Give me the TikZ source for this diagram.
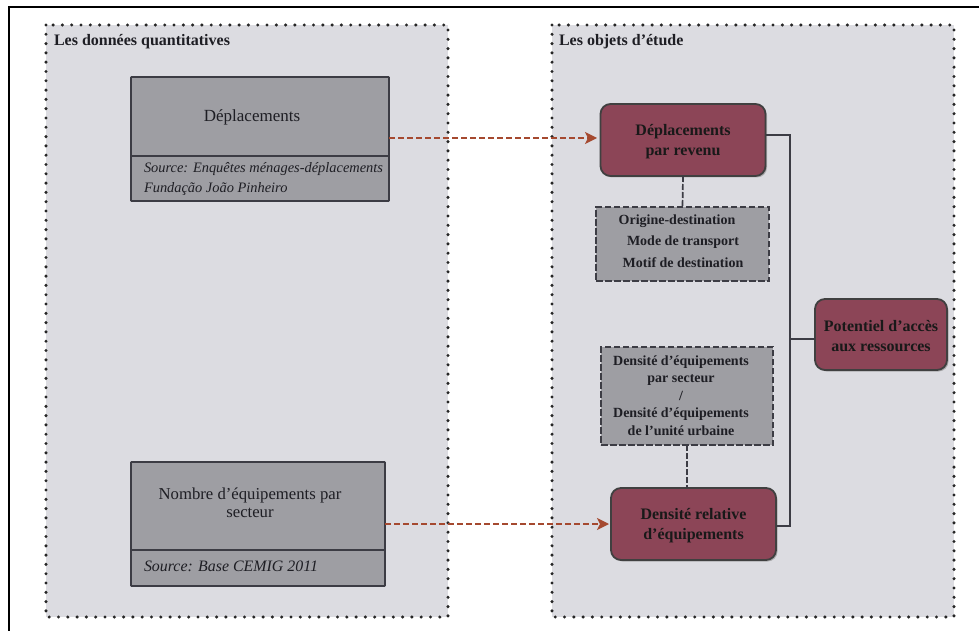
\documentclass[tikz,border=0pt]{standalone}
\usepackage{fontspec}
\setmainfont{Liberation Serif}
\usetikzlibrary{arrows.meta,shadows}
\definecolor{panelc}{HTML}{DCDCE1}
\definecolor{greyc}{HTML}{9E9EA3}
\definecolor{redc}{HTML}{8C4557}
\definecolor{linec}{HTML}{3C3C44}
\definecolor{arrowc}{HTML}{A5492F}
\definecolor{inkc}{HTML}{1E1E24}
\newcommand\rbstrut{\rule{0pt}{14.5pt}}
\tikzset{
  x=1pt,y=-1pt,
  every node/.style={text=inkc,inner sep=0pt,outer sep=0pt},
  panel/.style={fill=panelc,draw=black!85,line width=3.4pt,line cap=round,dash pattern=on 0pt off 9.3pt},
  paneltitle/.style={anchor=west,font=\fontsize{16}{18}\selectfont\bfseries},
  srcbox/.style={fill=greyc,draw=linec,line width=1.6pt,rounded corners=0.6pt},
  redbox/.style={fill=redc,draw=black!75,line width=1.8pt,rounded corners=10pt,align=center,text=black!90,font=\fontsize{16}{19.5}\selectfont\bfseries,
     drop shadow={shadow xshift=1.5pt,shadow yshift=-1.5pt,fill=black!45,opacity=.6}},
  dashbox/.style={fill=greyc,draw=linec,line width=1.7pt,dash pattern=on 6.5pt off 2.5pt,align=center},
  dashtext/.style={font=\fontsize{14}{17.4}\selectfont\bfseries,align=center},
  link/.style={draw=linec,line width=1.7pt},
  dlink/.style={draw=linec,line width=1.7pt,dash pattern=on 6pt off 2pt},
  flow/.style={draw=arrowc,line width=1.5pt,dash pattern=on 6pt off 3pt,-{Stealth[length=12pt,width=12pt,inset=3pt]}},
}
\begin{document}
\begin{tikzpicture}
\useasboundingbox (0,0) rectangle (979,631);
\fill[white] (0,0) rectangle (979,631);
\draw[black,line width=1.3pt] (9,631) -- (9,7) -- (979,7);
\draw[panel] (46,25) rectangle (448,617);
\draw[panel] (552,25) rectangle (954,617);
\node[paneltitle] (t1) at (54,42) {Les données quantitatives};
\node[paneltitle] (t2) at (559,42) {Les objets d’étude};

\node[srcbox,minimum width=258pt,minimum height=79pt] (a) at (260,116.5) {};
\node[srcbox,minimum width=258pt,minimum height=45pt] (as) at (260,178.5) {};
\node[font=\fontsize{17}{20}\selectfont] (al) at (252,117) {Déplacements};
\node[anchor=west,align=left,font=\fontsize{14.4}{20}\selectfont\itshape] (ast) at (144,178.5) {Source: Enquêtes ménages-déplacements\\Fundação João Pinheiro};

\node[srcbox,minimum width=254pt,minimum height=88pt] (b) at (258,506) {};
\node[srcbox,minimum width=254pt,minimum height=36pt] (bs) at (258,568) {};
\node[align=center,font=\fontsize{16.7}{18.5}\selectfont] (bl) at (250,503) {Nombre d’équipements par\\secteur};
\node[anchor=west,font=\fontsize{15.9}{18}\selectfont\itshape] (bst) at (144,566) {Source: Base CEMIG 2011};

\node[redbox,minimum width=165pt,minimum height=72pt] (r1) at (683,140) {\rbstrut Déplacements\\par revenu};
\node[redbox,minimum width=165pt,minimum height=72pt] (r2) at (693.5,524) {\rbstrut Densité relative\\d’équipements};
\node[redbox,minimum width=132pt,minimum height=71pt] (r3) at (881,334.5) {\rbstrut Potentiel d’accès\\aux ressources};

\node[dashbox,minimum width=173pt,minimum height=74pt] (d1) at (682.5,244) {};
\node[dashtext] (d1a) at (677,221.5) {Origine-destination};
\node[dashtext] (d1b) at (683,242) {Mode de transport};
\node[dashtext] (d1c) at (683,263) {Motif de destination};
\node[dashbox,minimum width=172pt,minimum height=98pt] (d2) at (687,396) {};
\node[dashtext] (d2t) at (681,395.5) {Densité d’équipements\\par secteur\\/\\Densité d’équipements\\de l’unité urbaine};

\coordinate (j1) at (790,135);
\coordinate (j2) at (790,526);
\coordinate (j3) at (790,339);
\draw[link] (r1.east |- j1) -- (j1) -- (j2) -- (r2.east |- j2);
\draw[link] (j3) -- (r3.west |- j3);
\draw[dlink] (r1.south) -- (d1.north);
\draw[dlink] (d2.south) -- (r2.north -| d2.south);
\coordinate (f1) at (597,138);
\draw[flow] (a.east |- f1) -- (f1);
\coordinate (f2) at (609,524);
\draw[flow] (b.east |- f2) -- (f2);
\end{tikzpicture}
\end{document}
